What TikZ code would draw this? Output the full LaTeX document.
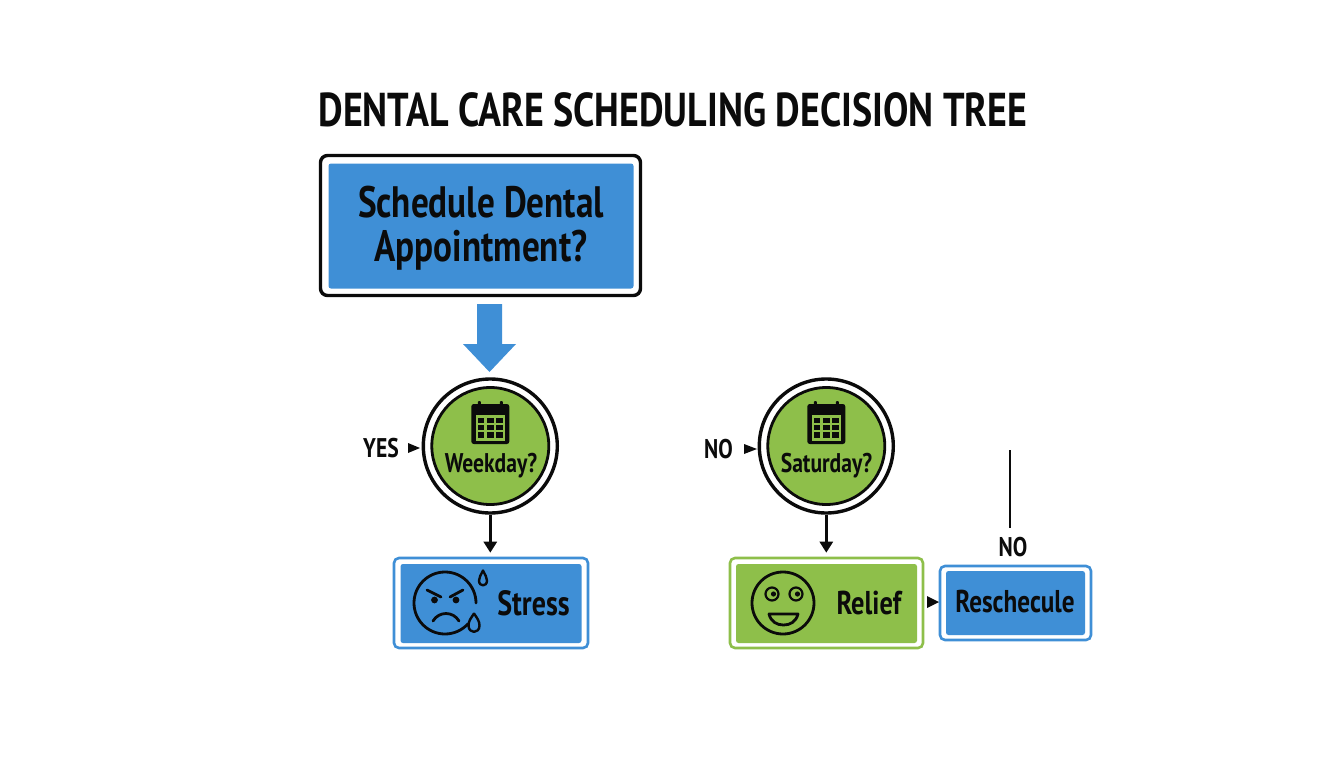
\documentclass[tikz,border=0pt]{standalone}
\usepackage{fontspec}
\usetikzlibrary{arrows.meta}
\newfontfamily\dinfont[FakeStretch=0.80,BoldFont={PT Sans Bold},BoldFeatures={FakeStretch=0.80}]{PT Sans}
\definecolor{bluefill}{HTML}{3F8FD6}
\definecolor{greenfill}{HTML}{8EBF4A}
\definecolor{ink}{HTML}{0B0B0B}
\tikzset{
  x=1pt,y=-1pt,
  lab/.style={font=\dinfont\bfseries\fontsize{#1}{#1}\selectfont,text=ink,inner sep=0pt,align=center},
  frame/.style={rounded corners=5pt,fill=white,inner sep=0pt,line width=2.6pt},
  core/.style={rounded corners=2.5pt,inner sep=0pt,font=\dinfont\bfseries,text=ink,align=center},
  ring/.style={circle,draw=ink,fill=white,line width=3.4pt,minimum size=134pt,inner sep=0pt},
  disc/.style={circle,draw=ink,fill=greenfill,line width=2.8pt,minimum size=117pt,inner sep=0pt},
  conn/.style={draw=ink,line width=2.7pt,-{Triangle[length=11pt,width=13pt]}},
  iconline/.style={draw=ink,line width=2.8pt,line cap=round,line join=round},
  cal/.pic={
    \fill[ink,rounded corners=2.5pt] (-19,-20) rectangle (19,20);
    \fill[ink,rounded corners=1pt] (-12.5,-23) rectangle (-9.5,-17);
    \fill[ink,rounded corners=1pt] (9.5,-23) rectangle (12.5,-17);
    \fill[greenfill] (-14.5,-9.5) rectangle (14.5,16.5);
    \foreach \cx in {-9.3,0,9.3}\foreach \cy in {-3.5,3.7,11}
      \fill[ink] (\cx-3.4,\cy-2.7) rectangle (\cx+3.4,\cy+2.7);
  }
}
\begin{document}
\begin{tikzpicture}
\useasboundingbox (0,0) rectangle (1344,768);
\fill[white] (0,0) rectangle (1344,768);

\node[lab=47.5] (title) at (673,110) {DENTAL CARE SCHEDULING DECISION TREE};

% top box
\node[frame,draw=ink,line width=3.4pt,rounded corners=7pt,minimum width=320pt,minimum height=140pt] (startouter) at (480.5,225.5) {};
\node[core,fill=bluefill,minimum width=305pt,minimum height=125pt] (startbox) at (481,226) {};
\node[lab=44] (start) at (481,228) {Schedule Dental\\Appointment?};

% block arrow
\coordinate (arrowtop) at (489.5,304);
\coordinate (arrowtip) at (489.5,372);
\fill[bluefill] (arrowtop) ++(-12.5,0) -- ++(25,0) -- ++(0,40) -- ++(14,0) -- (arrowtip) -- (463,344) -- (477,344) -- cycle;

% decision circles
\node[ring] (c1) at (490.3,446) {};
\node[disc] (c1in) at (490.3,446) {};
\pic at (490.3,424) {cal};
\node[lab=27] (weekday) at (491,466) {Weekday?};

\node[ring] (c2) at (826.3,446) {};
\node[disc] (c2in) at (826.3,446) {};
\pic at (826.3,424) {cal};
\node[lab=27] (saturday) at (826.5,466) {Saturday?};

% labels on the left
\node[lab=27] (yes) at (381,448) {YES};
\node[lab=27] (noa) at (718.5,449) {NO};
\fill[ink] (408,443) -- (420,448) -- (408,453) -- cycle;
\fill[ink] (744,444) -- (757,449) -- (744,454) -- cycle;

% outcome boxes
\node[frame,draw=bluefill,minimum width=194pt,minimum height=90pt] (stressouter) at (491,603) {};
\node[core,fill=bluefill,minimum width=181pt,minimum height=79pt] (stressbox) at (491,603.5) {};
\node[lab=35] (stress) at (533.5,603) {Stress};

\node[frame,draw=greenfill,minimum width=193pt,minimum height=90pt] (reliefouter) at (826.5,603) {};
\node[core,fill=greenfill,minimum width=181pt,minimum height=79pt] (reliefbox) at (826.5,603.5) {};
\node[lab=33] (relief) at (869,603) {Relief};

\node[frame,draw=bluefill,minimum width=151pt,minimum height=74pt] (resouter) at (1015.5,603) {};
\node[core,fill=bluefill,minimum width=139pt,minimum height=64pt] (resbox) at (1015.5,603) {};
\node[lab=31.5] (res) at (1015,602) {Reschecule};

% connectors
\draw[conn] (c1.south) -- ([yshift=4pt]c1.south |- stressouter.north);
\draw[conn] (c2.south) -- ([yshift=4pt]c2.south |- reliefouter.north);
\fill[ink] (927,596) -- (939,602) -- (927,608) -- cycle;

\node[lab=27] (nob) at (1013,547) {NO};
\coordinate (lineend) at (1010,450);
\draw[draw=ink,line width=2.9pt] (lineend) -- (1010,528);

% stress face
\begin{scope}[iconline]
  \draw (476,603) arc[start angle=0,end angle=318,radius=31pt];
  \draw (427,590) -- (441,597);
  \draw (463,590) -- (450,597);
  \draw (433,621) .. controls (439,611) and (453,611) .. (459,621);
\end{scope}
\fill[ink] (434.5,600) circle (3.4pt);
\fill[ink] (456,600) circle (3.4pt);
\draw[iconline,line width=2.4pt] (483,570.5) .. controls (481,575) and (479,577) .. (479,580.5) .. controls (479,587) and (487,587) .. (487,580.5) .. controls (487,577) and (485,575) .. (483,570.5);
\draw[iconline,line width=2.4pt] (474,613.5) .. controls (471,618) and (468.5,621) .. (468.5,625.5) .. controls (468.5,634) and (479.5,634) .. (479.5,625.5) .. controls (479.5,621) and (477,618) .. (474,613.5);

% relief face
\draw[iconline] (783,603) circle (31pt);
\draw[iconline,line width=2.2pt] (772,594) circle (6.5pt);
\draw[iconline,line width=2.2pt] (796,594) circle (6.5pt);
\fill[ink] (773.5,594) circle (2.6pt);
\fill[ink] (797.5,594) circle (2.6pt);
\draw[iconline] (769,614) -- (798,614) .. controls (796,622) and (790,625) .. (783.5,625) .. controls (777,625) and (771,622) .. (769,614) -- cycle;
\end{tikzpicture}
\end{document}
